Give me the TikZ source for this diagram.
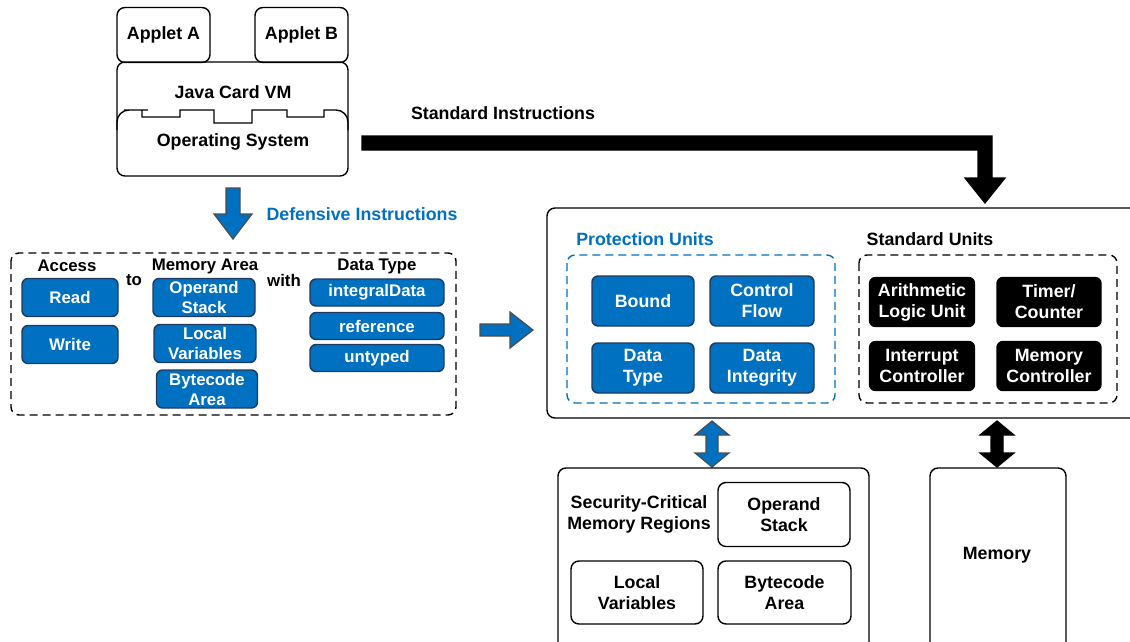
\documentclass[tikz,border=0pt]{standalone}
\usepackage{fontspec}
\setmainfont{Liberation Sans}
\definecolor{pblue}{HTML}{0070C0}
\definecolor{pline}{HTML}{1F3A5F}
\tikzset{
  txt/.style={font=\fontsize{17.8}{21}\selectfont\bfseries, align=center, inner sep=0pt},
  smalltxt/.style={txt, font=\fontsize{16.8}{20}\selectfont\bfseries},
  bluebox/.style={txt, draw=pline, fill=pblue, text=white, rounded corners=6pt, line width=1.4pt},
  blackbox/.style={txt, draw=black, fill=black, text=white, rounded corners=6pt, line width=1.4pt},
  whitebox/.style={txt, draw=black, fill=white, rounded corners=8pt, line width=1.4pt},
  outline/.style={draw=black, rounded corners=8pt, line width=1.4pt},
  dashline/.style={outline, dash pattern=on 8pt off 5pt},
  barrow/.style={fill=pblue, draw=black!70, line width=1.2pt, line join=miter},
  karrow/.style={fill=black, draw=black, line width=1.2pt, line join=miter},
}
\begin{document}
\begin{tikzpicture}[x=1pt, y=-1pt]
	\useasboundingbox (0,0) rectangle (1130,642);
	\clip (0,0) rectangle (1130,642);

	% card runtime
	\node[whitebox, minimum width=93pt, minimum height=55pt] (appa) at (163.5,35) {Applet A};
	\node[whitebox, minimum width=93pt, minimum height=55pt] (appb) at (301.5,35) {Applet B};
	\draw[outline] (117,62) rectangle (348,176);
	\draw[line width=1.4pt, rounded corners=12pt] (117,130) |- (136,110) [sharp corners] -- (142,110) -- (142,117) -- (180,117) -- (180,110)
		-- (214,110) -- (214,123) -- (252,123) -- (252,110) -- (287,110) -- (287,117) -- (324,117) -- (324,110) -- (330,110)
		[rounded corners=12pt] -| (348,130);
	\node[txt] (jcvm) at (233,92) {Java Card VM};
	\node[txt] (os) at (233,142) {Operating System};

	% standard instructions
	\node[txt] (stdins) at (503,113) {Standard Instructions};
	\draw[karrow] (362,136) -- (992,136) -- (992,178) -- (1005,178) -- (985,203) -- (965,178) -- (978,178) -- (978,150) -- (362,150) -- cycle;

	% defensive instructions
	\draw[barrow] (226,188) -- (240,188) -- (240,214) -- (252,214) -- (233,239) -- (214,214) -- (226,214) -- cycle;
	\node[txt, text=pblue] (defins) at (362,214) {Defensive Instructions};

	\draw[dashline] (11,253) rectangle (456,415);
	\node[smalltxt] (access) at (67,266) {Access};
	\node[smalltxt] (to) at (134,280) {to};
	\node[smalltxt] (memarea) at (205,266) {Memory Area};
	\node[smalltxt] (with) at (284,280) {with};
	\node[smalltxt] (dtype) at (377,266) {Data Type};

	\node[bluebox, smalltxt, minimum width=96pt, minimum height=38pt] (read) at (70,297.5) {Read};
	\node[bluebox, smalltxt, minimum width=96pt, minimum height=38pt] (write) at (70,344.5) {Write};
	\node[bluebox, smalltxt, minimum width=102pt, minimum height=38pt] (opstack) at (204,297.5) {Operand\\Stack};
	\node[bluebox, smalltxt, minimum width=102pt, minimum height=38pt] (locvar) at (205,343.5) {Local\\Variables};
	\node[bluebox, smalltxt, minimum width=101pt, minimum height=38pt] (bcode) at (207,389) {Bytecode\\Area};
	\node[bluebox, smalltxt, minimum width=134pt, minimum height=27pt] (intdata) at (377,292.5) {integralData};
	\node[bluebox, smalltxt, minimum width=134pt, minimum height=27pt] (ref) at (377,326) {reference};
	\node[bluebox, smalltxt, minimum width=134pt, minimum height=27pt] (untyped) at (377,358) {untyped};

	\draw[barrow] (480,324) -- (510,324) -- (510,312) -- (533,330) -- (510,348) -- (510,336) -- (480,336) -- cycle;

	% processor
	\draw[outline] (547,208) rectangle (1140,418);
	\node[txt, text=pblue] (protu) at (645,239) {Protection Units};
	\draw[dashline, draw=pblue] (567,255) rectangle (835,403);
	\node[bluebox, minimum width=102pt, minimum height=50pt] (bound) at (643,301) {Bound};
	\node[bluebox, minimum width=104pt, minimum height=50pt] (cflow) at (762,301) {Control\\Flow};
	\node[bluebox, minimum width=102pt, minimum height=50pt] (ptype) at (643,368) {Data\\Type};
	\node[bluebox, minimum width=104pt, minimum height=50pt] (integ) at (762,368) {Data\\Integrity};

	\node[txt] (stdu) at (930,239) {Standard Units};
	\draw[dashline] (859,255) rectangle (1117,403);
	\node[blackbox, minimum width=105pt, minimum height=49pt] (alu) at (922,302) {Arithmetic\\Logic Unit};
	\node[blackbox, minimum width=104pt, minimum height=49pt] (timer) at (1049,302) {Timer/\\Counter};
	\node[blackbox, minimum width=105pt, minimum height=49pt] (intc) at (922,366) {Interrupt\\Controller};
	\node[blackbox, minimum width=104pt, minimum height=49pt] (memc) at (1049,366) {Memory\\Controller};

	% memories
	\draw[barrow] (712,421) -- (729,435) -- (718,435) -- (718,453) -- (729,453) -- (712,467) -- (695,453) -- (706,453) -- (706,435) -- (695,435) -- cycle;
	\draw[karrow] (997,421) -- (1014,435) -- (1003,435) -- (1003,453) -- (1014,453) -- (997,467) -- (980,453) -- (991,453) -- (991,435) -- (980,435) -- cycle;

	\draw[outline] (558,468) rectangle (869,660);
	\node[txt] (scmr) at (639,514) {Security-Critical\\Memory Regions};
	\node[whitebox, minimum width=132pt, minimum height=64pt] (opstack2) at (784,514.5) {Operand\\Stack};
	\node[whitebox, minimum width=132pt, minimum height=63pt] (locvar2) at (637,592.5) {Local\\Variables};
	\node[whitebox, minimum width=133pt, minimum height=63pt] (bcode2) at (784.5,592.5) {Bytecode\\Area};

	\draw[outline] (930,468) rectangle (1066,660);
	\node[txt] (mem) at (997,555) {Memory};
\end{tikzpicture}
\end{document}
